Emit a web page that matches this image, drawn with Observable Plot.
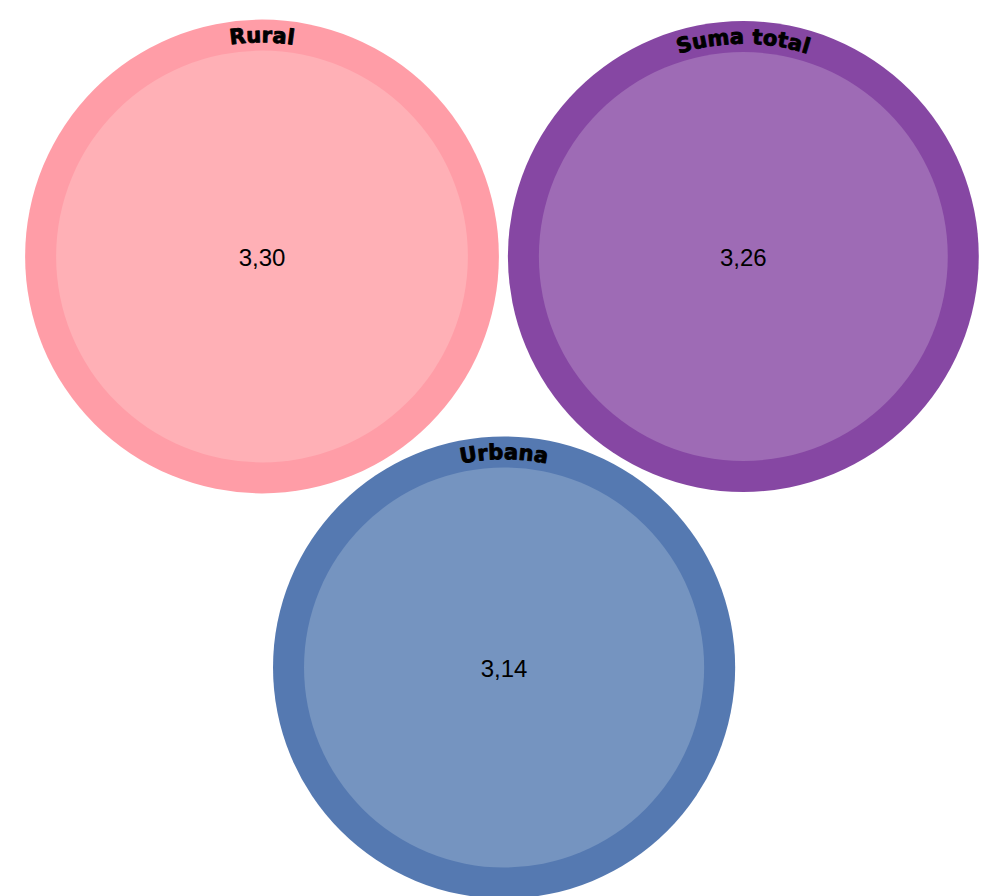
<!DOCTYPE html>
<html>
<head>
<meta charset="utf-8">
<script src="https://cdn.jsdelivr.net/npm/d3@7"></script>
<script src="https://cdn.jsdelivr.net/npm/@observablehq/plot@0.6"></script>
<style>
  html, body { margin: 0; padding: 0; background: #fff; overflow: hidden; }
  #chart svg { display: block; }
</style>
</head>
<body>
<div id="chart"></div>
<script>
// ---- data ----
const categories = ["Rural", "Suma total", "Urbana"];
const values = [3.30, 3.26, 3.14];
const valueLabels = ["3,30", "3,26", "3,14"];
const outerColors = ["#FF9DA7", "#8647A3", "#5579B1"];
const innerColors = ["#FFB0B6", "#9E6BB5", "#7594C0"];

// ---- layout ----
const W = 984, H = 896;
const k = 130.4;          // px per sqrt(value)
const ring = 31;          // ring thickness
const pad = 4.5;
const circles = values.map((v, i) => ({i, r: k * Math.sqrt(v) + pad}));
d3.packSiblings(circles);
if (circles[2].y < circles[0].y) circles.forEach(c => c.y = -c.y);
if (circles[1].x < circles[0].x) circles.forEach(c => c.x = -c.x);

const data = circles.map(c => ({
  name: categories[c.i],
  label: valueLabels[c.i],
  x: c.x, y: c.y,
  outerR: c.r - pad,
  innerR: c.r - pad - ring,
  outer: outerColors[c.i],
  inner: innerColors[c.i]
}));

// scale domains: 1 data unit = 1 px, Rural centre at (261.5, 256)
const x0 = data[0].x - 261.5, y0 = data[0].y - 256;

// curved labels: one text per character along the ring
const font = "bold 21px 'DejaVu Sans'";
const ctx = document.createElement("canvas").getContext("2d");
ctx.font = font;
const spacing = 0.6;
const chars = [];
for (const d of data) {
  const letters = [...d.name];
  const widths = letters.map(ch => ctx.measureText(ch).width + spacing);
  const total = d3.sum(widths);
  const Rc = d.outerR - 16;
  let off = 0;
  letters.forEach((ch, j) => {
    const mid = off + widths[j] / 2;
    off += widths[j];
    const theta = (mid - total / 2) / Rc;
    chars.push({
      ch,
      x: d.x + Rc * Math.sin(theta),
      y: d.y - Rc * Math.cos(theta),
      rot: theta * 180 / Math.PI
    });
  });
}

const plot = Plot.plot({
  width: W,
  height: H,
  margin: 0,
  x: {domain: [x0, x0 + W], range: [0, W], axis: null},
  y: {domain: [y0, y0 + H], range: [0, H], axis: null},
  r: {type: "identity"},
  marks: [
    Plot.dot(data, {x: "x", y: "y", r: "outerR", fill: "outer", stroke: null}),
    Plot.dot(data, {x: "x", y: "y", r: "innerR", fill: "inner", stroke: null}),
    Plot.text(data, {x: "x", y: "y", text: "label", fontSize: 24, fontFamily: "'Liberation Sans', Arial, sans-serif", fill: "#000", dy: 2}),
    Plot.text(chars, {x: "x", y: "y", text: "ch", rotate: "rot", fontSize: 21, fontWeight: "bold", fontFamily: "'DejaVu Sans', sans-serif", fill: "#000", stroke: "#000", strokeWidth: 0.9})
  ]
});
document.getElementById("chart").appendChild(plot);
</script>
</body>
</html>
